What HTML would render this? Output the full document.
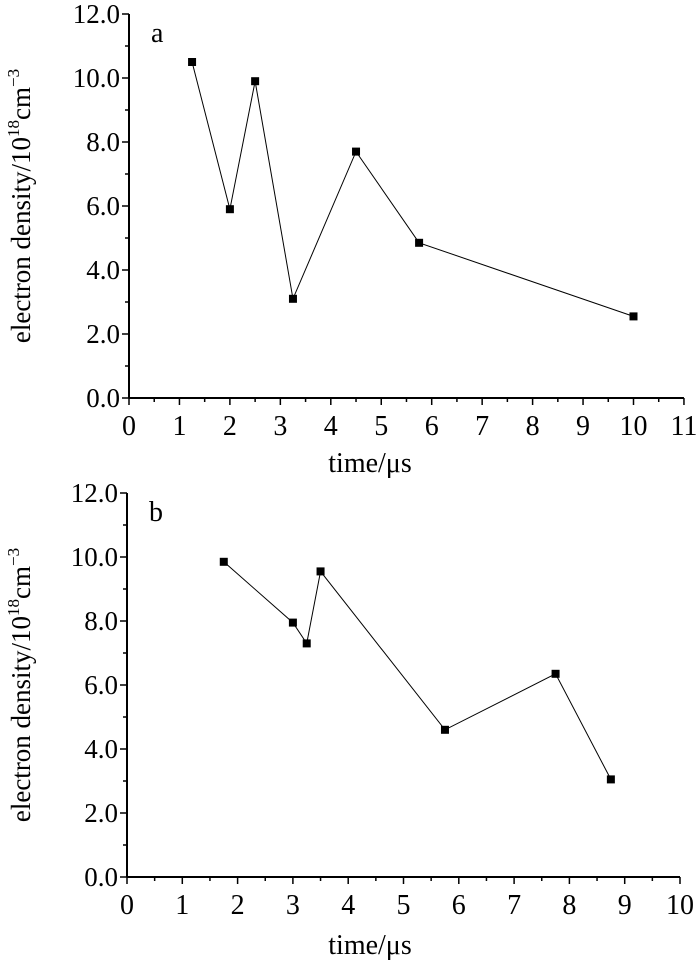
<!DOCTYPE html>
<html><head><meta charset="utf-8"><style>body{margin:0;background:#fff}svg{display:block}text{font-family:"Liberation Serif",serif;fill:#000}</style></head><body>
<svg width="700" height="961" viewBox="0 0 700 961" xmlns="http://www.w3.org/2000/svg">
<g id="plots"></g>
</svg>
<script>
function plot(y0,x0,unit,xmax,data,lab,xlabelY){
 const s=32.0; const Y=v=>y0-s*v, X=t=>x0+unit*t;
 let o='';
 o+=`<line x1="${x0}" y1="${Y(12)}" x2="${x0}" y2="${y0}" stroke="#000" stroke-width="2"/>`;
 o+=`<line x1="${x0}" y1="${y0}" x2="${X(xmax)}" y2="${y0}" stroke="#000" stroke-width="2"/>`;
 for(let v=0;v<=12;v++){const y=Y(v);o+=`<line x1="${x0}" y1="${y}" x2="${x0-(v%2?4:7)}" y2="${y}" stroke="#000" stroke-width="1.5"/>`;
  if(v%2==0)o+=`<text x="${x0-9}" y="${y+9}" font-size="27" text-anchor="end">${v}.0</text>`;}
 for(let t=0;t<=xmax;t+=0.5){const x=X(t);const maj=Number.isInteger(t);o+=`<line x1="${x}" y1="${y0}" x2="${x}" y2="${y0+(maj?7:4)}" stroke="#000" stroke-width="1.5"/>`;
  if(maj)o+=`<text x="${x}" y="${y0+37}" font-size="28" text-anchor="middle">${t}</text>`;}
 o+=`<polyline points="${data.map(d=>X(d[0])+','+Y(d[1])).join(' ')}" fill="none" stroke="#000" stroke-width="1"/>`;
 data.forEach(d=>{o+=`<rect x="${X(d[0])-4}" y="${Y(d[1])-4}" width="8" height="8" fill="#000"/>`;});
 o+=`<text x="${x0+22}" y="${Y(12)+28}" font-size="28">${lab}</text>`;
 o+=`<text x="370" y="${xlabelY}" font-size="28" text-anchor="middle">time/μs</text>`;
 const cy=(Y(12)+y0)/2;
 o+=`<text transform="translate(30,${cy}) rotate(-90)" font-size="27" text-anchor="middle">electron density/10<tspan font-size="17" dy="-11">18</tspan><tspan dy="11">cm</tspan><tspan font-size="17" dy="-11">−3</tspan></text>`;
 return o;
}
document.getElementById('plots').innerHTML=
 plot(398,129,50.45,11,[[1.25,10.5],[2,5.9],[2.5,9.9],[3.25,3.1],[4.5,7.7],[5.75,4.85],[10,2.55]],'a',472)+
 plot(877,127,55.3,10,[[1.75,9.85],[3,7.95],[3.25,7.3],[3.5,9.55],[5.75,4.6],[7.75,6.35],[8.75,3.05]],'b',954);
</script>
</body></html>
